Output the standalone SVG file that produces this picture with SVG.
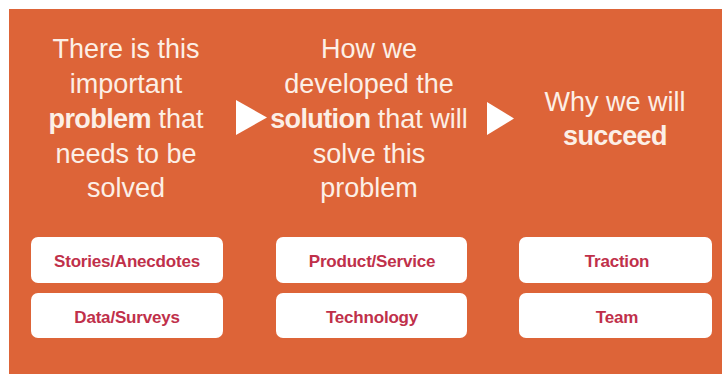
<svg xmlns="http://www.w3.org/2000/svg" width="722" height="374" viewBox="0 0 722 374">
<style>
.head{font-family:"Liberation Sans",Arial,sans-serif;font-size:27px;fill:#fcefe6;text-anchor:middle}
.b{font-weight:bold;letter-spacing:-0.6px}
.box{fill:#ffffff}
.lbl{font-family:"Liberation Sans",Arial,sans-serif;font-size:17px;font-weight:bold;fill:#c0304a;text-anchor:middle;letter-spacing:-0.2px}
.arr{fill:#ffffff}
</style>
<rect x="0" y="0" width="722" height="374" fill="#ffffff"/>
<rect x="9" y="9" width="713" height="365" fill="#dd6438"/>
<g id="col1">
<text class="head" x="126" y="58">There is this</text>
<text class="head" x="126" y="93">important</text>
<text class="head" x="126" y="128"><tspan class="b">problem</tspan> that</text>
<text class="head" x="126" y="163">needs to be</text>
<text class="head" x="126" y="197">solved</text>
</g>
<g id="col2">
<text class="head" x="369" y="58">How we</text>
<text class="head" x="369" y="93">developed the</text>
<text class="head" x="369" y="128"><tspan class="b">solution</tspan> that will</text>
<text class="head" x="369" y="163">solve this</text>
<text class="head" x="369" y="197">problem</text>
</g>
<g id="col3">
<text class="head" x="615" y="111">Why we will</text>
<text class="head b" x="615" y="145">succeed</text>
</g>
<g id="connectors">
<polygon class="arr" points="236,100 267,117.5 236,135"/>
<polygon class="arr" points="487,102 514,118.5 487,135"/>
</g>
<g id="box-stories"><rect class="box" x="31" y="237" width="192" height="46" rx="7"/><text class="lbl" x="127" y="267">Stories/Anecdotes</text></g>
<g id="box-data"><rect class="box" x="31" y="293" width="192" height="45" rx="7"/><text class="lbl" x="127" y="323">Data/Surveys</text></g>
<g id="box-product"><rect class="box" x="276" y="237" width="191" height="46" rx="7"/><text class="lbl" x="372" y="267">Product/Service</text></g>
<g id="box-technology"><rect class="box" x="276" y="293" width="191" height="45" rx="7"/><text class="lbl" x="372" y="323">Technology</text></g>
<g id="box-traction"><rect class="box" x="519" y="237" width="193" height="46" rx="7"/><text class="lbl" x="617" y="267">Traction</text></g>
<g id="box-team"><rect class="box" x="519" y="293" width="193" height="45" rx="7"/><text class="lbl" x="617" y="323">Team</text></g>
</svg>
